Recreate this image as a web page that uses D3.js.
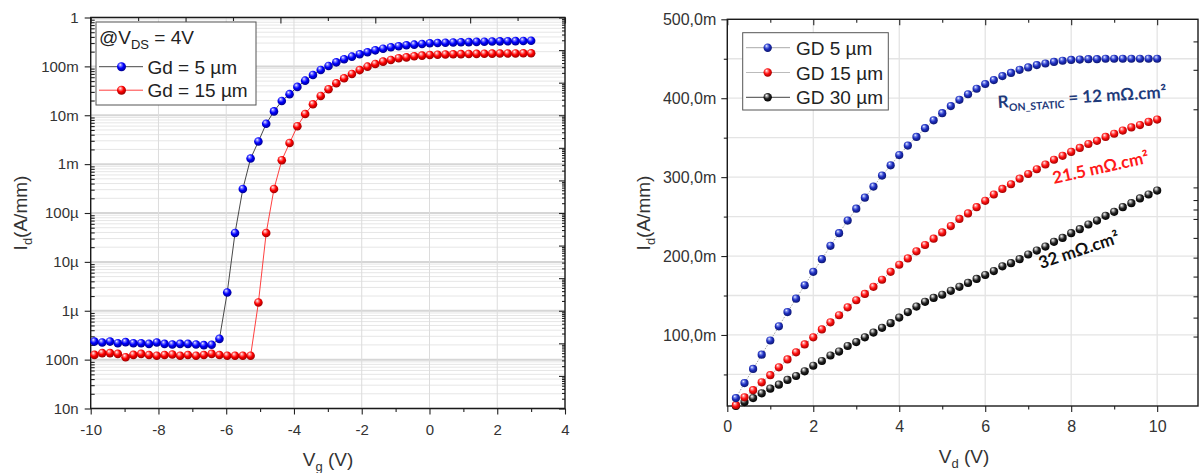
<!DOCTYPE html>
<html><head><meta charset="utf-8">
<script src="https://cdn.jsdelivr.net/npm/d3@7"></script>
<style>
body{margin:0;background:#fff;}
svg{display:block;font-family:"Liberation Sans",Arial,sans-serif;}
</style>
</head><body>
<svg id="c" width="1200" height="473"></svg>
<script>
// ---------------- DATA: left chart (transfer, log) ----------------
const vgSweep = [-9.89,-9.66,-9.43,-9.20,-8.97,-8.74,-8.51,-8.28,-8.05,-7.82,-7.59,-7.36,-7.13,-6.89,-6.66,-6.43,-6.20,-5.97,-5.74,-5.51,-5.28,-5.05,-4.82,-4.59,-4.36,-4.13,-3.90,-3.67,-3.44,-3.21,-2.98,-2.75,-2.52,-2.29,-2.06,-1.83,-1.60,-1.37,-1.14,-0.91,-0.68,-0.45,-0.22,0.01,0.24,0.47,0.70,0.93,1.16,1.39,1.62,1.85,2.08,2.31,2.54,2.77,3.00];
const idGd5 = [2.34e-7,2.24e-7,2.34e-7,2.17e-7,2.28e-7,2.17e-7,2.17e-7,2.10e-7,2.24e-7,2.10e-7,2.04e-7,2.10e-7,2.10e-7,2.04e-7,1.98e-7,2.01e-7,
  2.66e-7,2.36e-6,3.9e-5,3.1e-4,1.3e-3,2.9e-3,6.7e-3,1.2e-2,1.96e-2,2.7e-2,3.8e-2,0.051,0.0667,0.0844,0.102,0.121,0.140,0.158,0.177,0.194,0.213,0.230,0.246,0.258,0.270,0.278,0.287,0.297,0.300,0.304,0.308,0.311,0.314,0.317,0.320,0.322,0.325,0.327,0.329,0.331,0.334];
const idGd15 = [1.25e-7,1.36e-7,1.36e-7,1.31e-7,1.12e-7,1.25e-7,1.31e-7,1.24e-7,1.20e-7,1.24e-7,1.27e-7,1.20e-7,1.24e-7,1.20e-7,1.24e-7,1.31e-7,1.24e-7,1.20e-7,1.20e-7,1.20e-7,1.20e-7,
  1.47e-6,3.9e-5,3.1e-4,1.2e-3,2.7e-3,5.96e-3,1.06e-2,1.68e-2,2.48e-2,3.4e-2,4.5e-2,5.7e-2,7.0e-2,8.4e-2,9.86e-2,0.112,0.125,0.135,0.147,0.153,0.161,0.166,0.171,0.173,0.175,0.177,0.178,0.179,0.180,0.181,0.182,0.183,0.183,0.184,0.185,0.185];
const leftYTicks = [1e-8,1e-7,1e-6,1e-5,1e-4,1e-3,1e-2,1e-1,1];
const leftYTickLabels = ["10n","100n","1µ","10µ","100µ","1m","10m","100m","1"];
const leftXTicks = [-10,-8,-6,-4,-2,0,2,4];
const leftXMinor = [-9,-7,-5,-3,-1,1,3];
const leftLegend = ["Gd = 5 µm","Gd = 15 µm"];

// ---------------- DATA: right chart (output, linear, mA/mm) ----------------
const vdSweep = [0.2,0.4,0.6,0.8,1.0,1.2,1.4,1.6,1.8,2.0,2.2,2.4,2.6,2.8,3.0,3.2,3.4,3.6,3.8,4.0,4.2,4.4,4.6,4.8,5.0,5.2,5.4,5.6,5.8,6.0,6.2,6.4,6.6,6.8,7.0,7.2,7.4,7.6,7.8,8.0,8.2,8.4,8.6,8.8,9.0,9.2,9.4,9.6,9.8,10.0];
const idGD5 = [20,39,57,75,93,111,129,146,163,180,196,213,229,245,260,274,288,302,315,328,340,351,362,372,381,390,398,405,412,418,423,428,432,436,439,442,444,446,447.5,448.5,449,449.5,449.5,450,450,450,450,450,450,450];
const idGD15 = [11,21,30,40,49,59,69,78,88,97,107,116,125,135,144,152,161,170,180,189,197,206,214,222,230,238,247,254,262,270,278,285,291,298,304,310,316,322,327,332,337,342,346,351,355,359,363,366,370,373];
const idGD30 = [10,15,20,26,32,37,43,48,54,61,67,74,79,86,91,97,103,109,115,122,129,136,142,147,151,156,161,166,171,176,181,187,191,196,202,207,212,218,223,229,234,240,245,251,256,262,267,273,278,283];
const rightYTicks = [100,200,300,400,500];
const rightYTickLabels = ["100,0m","200,0m","300,0m","400,0m","500,0m"];
const rightYMinor = [50,150,250,350,450];
const rightXTicks = [0,2,4,6,8,10];
const rightXMinor = [1,3,5,7,9];
const rightSideTicks = [472,436,386,287,271,259,247,223,198,174,149,122,98];
const rightLegend = ["GD 5 µm","GD 15 µm","GD 30 µm"];

// ---------------- DRAWING ----------------
const svg = d3.select("#c");
const defs = svg.append("defs");
function sphere(id, light, base, dark){
  const g = defs.append("radialGradient").attr("id",id)
    .attr("cx","45%").attr("cy","40%").attr("r","60%").attr("fx","35%").attr("fy","28%");
  g.append("stop").attr("offset","0%").attr("stop-color","#ffffff");
  g.append("stop").attr("offset","22%").attr("stop-color",light);
  g.append("stop").attr("offset","55%").attr("stop-color",base);
  g.append("stop").attr("offset","100%").attr("stop-color",dark);
}
sphere("gBlueL","#8080ff","#0000ff","#00008c");
sphere("gRedL","#ff9090","#ff0000","#9a0000");
sphere("gBlueR","#8090ee","#1f2fc0","#0c1670");
sphere("gRedR","#ff9090","#ff1010","#a00000");
sphere("gBlackR","#aaaaaa","#222222","#000000");

const tickColor = "#222", labelColor = "#333";
const plainNum = d => String(d);

function styleAxis(g, fs){
  g.select(".domain").remove();
  g.selectAll("line").attr("stroke",tickColor).attr("stroke-width",1.1);
  g.selectAll("text").attr("fill",labelColor).attr("font-size",fs).attr("font-family","'Liberation Sans',Arial,sans-serif");
  return g;
}

// ===== LEFT CHART =====
const xL = d3.scaleLinear([-10,4],[90.7,565]);
const yL = d3.scaleLog([1e-8,1],[408.5,17.5]);
const xLtop = d3.scaleLinear([0,10],[90.7,565]);
const yLright = d3.scaleLog([1e-12,1],[408.5,17.5]);

// grid
const minorLog = [];
for(let e=-8;e<0;e++) for(let k=1;k<10;k++) minorLog.push(k*Math.pow(10,e));
minorLog.push(1);
const isDecade = d => Math.abs(Math.log10(d)-Math.round(Math.log10(d)))<1e-6;
const gl = svg.append("g");
gl.selectAll("line.h").data(minorLog).join("line")
  .attr("x1",xL(-10)).attr("x2",xL(4)).attr("y1",d=>yL(d)).attr("y2",d=>yL(d))
  .attr("stroke",d=>isDecade(d)?"#d6d6d6":"#e6e6e6")
  .attr("stroke-width",d=>isDecade(d)?2:1);
gl.selectAll("line.v").data(leftXTicks).join("line")
  .attr("x1",d=>xL(d)).attr("x2",d=>xL(d)).attr("y1",yL(1e-8)).attr("y2",yL(1))
  .attr("stroke","#dcdcdc").attr("stroke-width",1);

// axes
styleAxis(svg.append("g").attr("transform",`translate(${xL(-10)},0)`)
  .call(d3.axisLeft(yL).tickValues(leftYTicks).tickSize(6).tickPadding(6)
    .tickFormat((d,i)=>leftYTickLabels[i])),15);
styleAxis(svg.append("g").attr("transform",`translate(${xL(-10)},0)`)
  .call(d3.axisRight(yL).tickValues(minorLog.filter(d=>!leftYTicks.includes(d))).tickSize(4).tickFormat("")),15);
styleAxis(svg.append("g").attr("transform",`translate(0,${yL(1e-8)})`)
  .call(d3.axisBottom(xL).tickValues(leftXTicks).tickSize(6).tickPadding(10).tickFormat(plainNum)),15);
styleAxis(svg.append("g").attr("transform",`translate(0,${yL(1e-8)})`)
  .call(d3.axisBottom(xL).tickValues(leftXMinor).tickSize(3.5).tickFormat("")),15);
styleAxis(svg.append("g").attr("transform",`translate(0,${yL(1)})`)
  .call(d3.axisBottom(xLtop).tickValues([0,2,4,6,8,10]).tickSize(6).tickFormat("")),15);
styleAxis(svg.append("g").attr("transform",`translate(0,${yL(1)})`)
  .call(d3.axisBottom(xLtop).tickValues([1,3,5,7,9]).tickSize(3.5).tickFormat("")),15);
const rMinor=[]; for(let e=-12;e<0;e++) for(let k=2;k<10;k++) rMinor.push(k*Math.pow(10,e));
styleAxis(svg.append("g").attr("transform",`translate(${xL(4)},0)`)
  .call(d3.axisLeft(yLright).tickValues(d3.range(-12,1).map(e=>Math.pow(10,e))).tickSize(6).tickFormat("")),15);
styleAxis(svg.append("g").attr("transform",`translate(${xL(4)},0)`)
  .call(d3.axisLeft(yLright).tickValues(rMinor).tickSize(3).tickFormat("")),15);

svg.append("rect").attr("x",xL(-10)).attr("y",yL(1)).attr("width",xL(4)-xL(-10)).attr("height",yL(1e-8)-yL(1))
  .attr("fill","none").attr("stroke","#1a1a1a").attr("stroke-width",1.4);

// series
const lineL = d3.line().x(d=>xL(d[0])).y(d=>yL(d[1]));
const s5 = vgSweep.map((v,i)=>[v,idGd5[i]]);
const s15 = vgSweep.map((v,i)=>[v,idGd15[i]]);
svg.append("path").attr("d",lineL(s15)).attr("fill","none").attr("stroke","#ff2a2a").attr("stroke-width",0.9);
svg.append("path").attr("d",lineL(s5)).attr("fill","none").attr("stroke","#333").attr("stroke-width",0.9);
svg.append("g").selectAll("circle").data(s15).join("circle")
  .attr("cx",d=>xL(d[0])).attr("cy",d=>yL(d[1])).attr("r",4.3).attr("fill","url(#gRedL)");
svg.append("g").selectAll("circle").data(s5).join("circle")
  .attr("cx",d=>xL(d[0])).attr("cy",d=>yL(d[1])).attr("r",4.3).attr("fill","url(#gBlueL)");

// legend left
const lgL = svg.append("g");
lgL.append("rect").attr("x",96).attr("y",22).attr("width",160).attr("height",83)
  .attr("fill","#fff").attr("stroke","#555").attr("stroke-width",1);
const t0 = lgL.append("text").attr("x",99).attr("y",44).attr("font-size",19).attr("fill","#222");
t0.append("tspan").text("@V");
t0.append("tspan").attr("font-size",13).attr("dy",5).text("DS");
t0.append("tspan").attr("dy",-5).text(" = 4V");
const lgColors = [["#333","url(#gBlueL)"],["#ff2a2a","url(#gRedL)"]];
leftLegend.forEach((s,i)=>{
  const cy = 66.7 + i*23.5;
  lgL.append("line").attr("x1",99).attr("x2",143).attr("y1",cy).attr("y2",cy).attr("stroke",lgColors[i][0]).attr("stroke-width",0.9);
  lgL.append("circle").attr("cx",121.5).attr("cy",cy).attr("r",4.5).attr("fill",lgColors[i][1]);
  lgL.append("text").attr("x",147.5).attr("y",cy+7).attr("font-size",19).attr("fill","#222").text(s);
});

// axis titles left
const ylt = svg.append("text").attr("transform","translate(27,213) rotate(-90)").attr("text-anchor","middle")
  .attr("font-size",19).attr("fill","#333");
ylt.append("tspan").text("I");
ylt.append("tspan").attr("font-size",13).attr("dy",5).text("d");
ylt.append("tspan").attr("dy",-5).text("(A/mm)");
const xlt = svg.append("text").attr("x",328).attr("y",466).attr("text-anchor","middle").attr("font-size",19).attr("fill","#333");
xlt.append("tspan").text("V");
xlt.append("tspan").attr("font-size",13).attr("dy",5).text("g");
xlt.append("tspan").attr("dy",-5).text(" (V)");

// ===== RIGHT CHART =====
const xR = d3.scaleLinear([0,10.95],[727.3,1198]);
const yR = d3.scaleLinear([10,500],[406,19.3]);

const gr = svg.append("g");
gr.selectAll("line.h").data(rightYTicks.concat(rightYMinor)).join("line")
  .attr("x1",xR(0)).attr("x2",xR(10.95)).attr("y1",d=>yR(d)).attr("y2",d=>yR(d))
  .attr("stroke","#e4e4e4").attr("stroke-width",1.3);
gr.selectAll("line.v").data(rightXTicks).join("line")
  .attr("x1",d=>xR(d)).attr("x2",d=>xR(d)).attr("y1",yR(10)).attr("y2",yR(500))
  .attr("stroke","#e4e4e4").attr("stroke-width",1.3);

styleAxis(svg.append("g").attr("transform",`translate(${xR(0)},0)`)
  .call(d3.axisLeft(yR).tickValues(rightYTicks).tickSize(6).tickPadding(5).tickFormat((d,i)=>rightYTickLabels[i])),16);
styleAxis(svg.append("g").attr("transform",`translate(${xR(0)},0)`)
  .call(d3.axisLeft(yR).tickValues(rightYMinor).tickSize(3.5).tickFormat("")),16);
styleAxis(svg.append("g").attr("transform",`translate(0,${yR(10)})`)
  .call(d3.axisBottom(xR).tickValues(rightXTicks).tickSize(6).tickPadding(9).tickFormat(plainNum)),16);
styleAxis(svg.append("g").attr("transform",`translate(0,${yR(10)})`)
  .call(d3.axisBottom(xR).tickValues(rightXMinor).tickSize(3.5).tickFormat("")),16);
styleAxis(svg.append("g").attr("transform",`translate(0,${yR(500)})`)
  .call(d3.axisBottom(xR).tickValues(rightXTicks).tickSize(6).tickFormat("")),16);
styleAxis(svg.append("g").attr("transform",`translate(0,${yR(500)})`)
  .call(d3.axisBottom(xR).tickValues(rightXMinor).tickSize(3.5).tickFormat("")),16);
styleAxis(svg.append("g").attr("transform",`translate(${xR(10.95)},0)`)
  .call(d3.axisLeft(yR).tickValues(rightSideTicks).tickSize(4.5).tickFormat("")),16);

svg.append("rect").attr("x",xR(0)).attr("y",yR(500)).attr("width",xR(10.95)-xR(0)).attr("height",yR(10)-yR(500))
  .attr("fill","none").attr("stroke","#1a1a1a").attr("stroke-width",1.4);

const lineR = d3.line().x(d=>xR(d[0])).y(d=>yR(d[1]));
const rSeries = [
  {vals:idGD30, fill:"url(#gBlackR)"},
  {vals:idGD15, fill:"url(#gRedR)"},
  {vals:idGD5, fill:"url(#gBlueR)"}
];
rSeries.forEach(s=>{
  const pts = vdSweep.map((v,i)=>[v,s.vals[i]]);
  svg.append("path").attr("d",lineR(pts)).attr("fill","none").attr("stroke","#999").attr("stroke-width",0.9).attr("stroke-dasharray","1.5,1.5");
  svg.append("g").selectAll("circle").data(pts).join("circle")
    .attr("cx",d=>xR(d[0])).attr("cy",d=>yR(d[1])).attr("r",4.1).attr("fill",s.fill);
});

// legend right
const lgR = svg.append("g");
lgR.append("rect").attr("x",742.7).attr("y",32.7).attr("width",145.6).attr("height",77.3)
  .attr("fill","#fff").attr("stroke","#555").attr("stroke-width",1);
const rLgFill = ["url(#gBlueR)","url(#gRedR)","url(#gBlackR)"];
const rLgLine = ["#aaa","#bbb","#444"];
rightLegend.forEach((s,i)=>{
  const cy = 47.7 + i*24.8;
  lgR.append("line").attr("x1",746).attr("x2",790).attr("y1",cy).attr("y2",cy).attr("stroke",rLgLine[i]).attr("stroke-width",1);
  lgR.append("circle").attr("cx",767.7).attr("cy",cy).attr("r",4.2).attr("fill",rLgFill[i]);
  lgR.append("text").attr("x",796).attr("y",cy+7).attr("font-size",19).attr("fill","#222").text(s);
});

// annotations
const aFont = "Lato, 'Open Sans', sans-serif";
const a1 = svg.append("text").attr("transform","translate(998,108) rotate(-3.5)")
  .attr("font-family",aFont).attr("font-weight","bold").attr("font-size",17).attr("fill","#1f3b7b");
a1.append("tspan").text("R");
a1.append("tspan").attr("font-size",10.5).attr("dy",4).text("ON_STATIC");
a1.append("tspan").attr("dy",-4).text(" = 12 mΩ.cm²");
svg.append("text").attr("transform","translate(1054,184) rotate(-12.5)")
  .attr("font-family",aFont).attr("font-weight","bold").attr("font-size",17).attr("fill","#ff1a1a").text("21.5 mΩ.cm²");
svg.append("text").attr("transform","translate(1041,269) rotate(-18.5)")
  .attr("font-family",aFont).attr("font-weight","bold").attr("font-size",17).attr("fill","#111").text("32 mΩ.cm²");

// axis titles right
const ylr = svg.append("text").attr("transform","translate(650,213) rotate(-90)").attr("text-anchor","middle")
  .attr("font-size",19).attr("fill","#333");
ylr.append("tspan").text("I");
ylr.append("tspan").attr("font-size",13).attr("dy",5).text("d");
ylr.append("tspan").attr("dy",-5).text("(A/mm)");
const xlr = svg.append("text").attr("x",964).attr("y",463).attr("text-anchor","middle").attr("font-size",19).attr("fill","#333");
xlr.append("tspan").text("V");
xlr.append("tspan").attr("font-size",13).attr("dy",5).text("d");
xlr.append("tspan").attr("dy",-5).text(" (V)");
</script>
</body></html>
